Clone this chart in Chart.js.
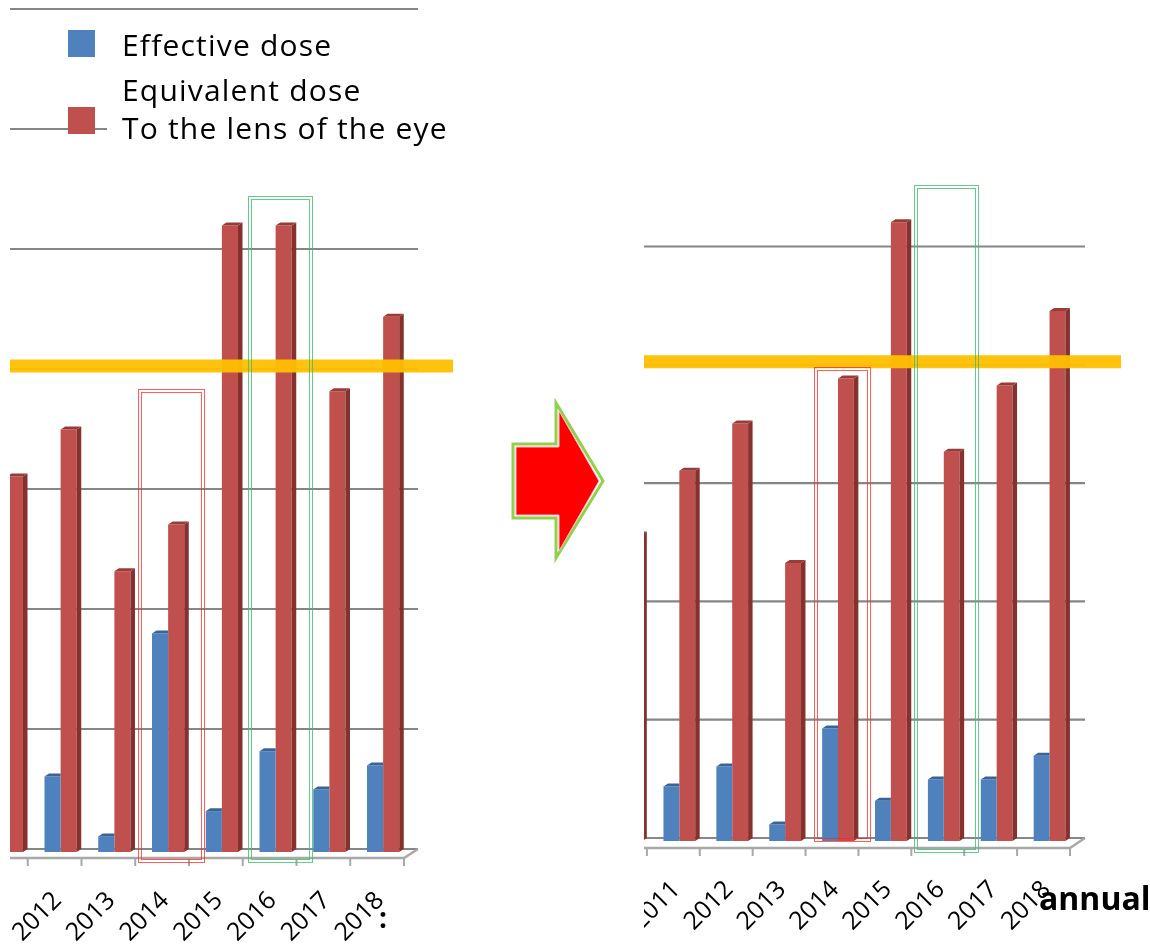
<!DOCTYPE html>
<html>
<head>
<meta charset="utf-8">
<script src="https://cdn.jsdelivr.net/npm/chart.js@4.4.1/dist/chart.umd.min.js"></script>
<style>
  body { margin: 0; width: 1150px; height: 945px; position: relative; overflow: hidden; background: #fff; font-family: 'Open Sans', sans-serif; }
  .panel { position: absolute; top: 0; height: 945px; overflow: hidden; }
  .panel canvas { position: absolute; top: 0; }
  #leftPanel { left: 10px; width: 460px; }
  #leftPanel canvas { left: -36px; }
  #rightPanel { left: 644px; width: 506px; }
  #rightPanel canvas { left: -50px; }
  .legendBox { position: absolute; left: 107px; top: 18px; width: 350px; height: 138px; background: #fff; }
  .legendText { position: absolute; left: 15px; font-size: 30px; letter-spacing: 1.2px; color: #000; white-space: nowrap; line-height: 38px; }
  .swatch { position: absolute; left: 68px; width: 27px; height: 27px; }
  .mark { position: absolute; box-sizing: border-box; border-style: double; border-width: 4px; }
  .note { position: absolute; color: #000; white-space: nowrap; }
</style>
</head>
<body>
<div id="leftPanel" class="panel"><canvas id="leftChart" width="500" height="945"></canvas></div>
<div id="rightPanel" class="panel"><canvas id="rightChart" width="556" height="945"></canvas></div>

<!-- legend of the left chart -->
<div class="legendBox">
  <div class="legendText" style="top:8px">Effective dose</div>
  <div class="legendText" style="top:53px">Equivalent dose</div>
  <div class="legendText" style="top:91px">To the lens of the eye</div>
</div>
<div class="swatch" style="top:30px;background:#4f81bd"></div>
<div class="swatch" style="top:107px;background:#c0504d"></div>

<!-- highlight boxes -->
<div class="mark" style="left:138px;top:389px;width:67px;height:474px;border-color:rgba(255,40,40,0.75)"></div>
<div class="mark" style="left:248px;top:196px;width:65px;height:667px;border-color:rgba(60,190,110,0.8)"></div>
<div class="mark" style="left:814px;top:367px;width:57px;height:475px;border-color:rgba(255,40,40,0.75)"></div>
<div class="mark" style="left:914px;top:185px;width:65px;height:668px;border-color:rgba(60,190,110,0.8)"></div>

<!-- arrow -->
<svg style="position:absolute;left:0;top:0" width="1150" height="945">
  <polygon points="513,444 556,444 556,403 603,481 556,558 556,518 513,518" fill="none" stroke="#92d050" stroke-width="3"/>
  <polygon points="516,447 559,447 559,411 599,481 559,551 559,515 516,515" fill="#ff0000" stroke="#ffb8b8" stroke-width="1"/>
</svg>

<div class="note" style="left:379px;top:898px;font-size:28px;font-weight:bold">:</div>
<div class="note" style="left:1039px;top:876px;font-size:32px;font-weight:bold">annual</div>

<script>
// data (units = grid steps)
const leftYears = ['2011', '2012', '2013', '2014', '2015', '2016', '2017', '2018'];
const leftEffective = [0.46, 0.63, 0.13, 1.82, 0.34, 0.84, 0.52, 0.72];
const leftLens = [3.13, 3.52, 2.34, 2.73, 5.22, 5.22, 3.84, 4.46];

const rightYears = ['2010', '2011', '2012', '2013', '2014', '2015', '2016', '2017', '2018'];
const rightEffective = [null, 0.46, 0.63, 0.14, 0.95, 0.34, 0.52, 0.52, 0.72];
const rightLens = [2.59, 3.13, 3.53, 2.35, 3.91, 5.23, 3.29, 3.85, 4.48];

const limitValue = 4;

const blue = '#4f81bd';
const red = '#c0504d';

// draws the excel-like 3D look: back wall grid, floor, bar sides, limit line
const depth3d = {
    id: 'depth3d',
    beforeDatasetsDraw(chart, args, o) {
        const { ctx, chartArea: a, scales: { x, y } } = chart;
        ctx.save();
        // back wall grid lines
        ctx.strokeStyle = '#868686';
        ctx.lineWidth = 2.2;
        for (let v = 0; v <= o.gridMax; v++) {
            const py = y.getPixelForValue(v) - o.wallDy;
            ctx.beginPath();
            ctx.moveTo(a.left, py);
            ctx.lineTo(a.right + o.wallDx, py);
            ctx.stroke();
        }
        // floor front edge + side
        const back0 = y.getPixelForValue(0) - o.wallDy;
        const front0 = y.getPixelForValue(0) + o.floorDy;
        ctx.strokeStyle = '#a8a8a8';
        ctx.lineWidth = 2.5;
        ctx.beginPath();
        ctx.moveTo(a.left, front0);
        ctx.lineTo(a.right, front0);
        ctx.lineTo(a.right + o.wallDx, back0);
        ctx.stroke();
        // tick marks on category borders
        ctx.lineWidth = 2;
        const n = x.getLabels().length;
        for (let i = 0; i <= n; i++) {
            const px = x.getPixelForValue(i - 0.5);
            ctx.beginPath();
            ctx.moveTo(px, front0);
            ctx.lineTo(px, front0 + 8);
            ctx.stroke();
        }
        ctx.restore();
        // bars sit a bit deeper than the floor front
        ctx.save();
        ctx.translate(o.barDx, 0);
    },
    afterDatasetsDraw(chart, args, o) {
        const { ctx, chartArea: a, scales: { y } } = chart;
        const dx = o.faceDx, dy = o.faceDy;
        chart.data.datasets.forEach((ds, i) => {
            const meta = chart.getDatasetMeta(i);
            meta.data.forEach((el, j) => {
                if (ds.data[j] === null) return;
                const l = el.x - el.width / 2, r = el.x + el.width / 2;
                const t = el.y, b = el.base;
                if (o.sides[i]) {
                    ctx.fillStyle = o.sides[i];
                    ctx.beginPath();
                    ctx.moveTo(r, t); ctx.lineTo(r + dx, t - dy);
                    ctx.lineTo(r + dx, b - dy); ctx.lineTo(r, b);
                    ctx.closePath(); ctx.fill();
                }
                ctx.fillStyle = o.tops[i];
                ctx.beginPath();
                ctx.moveTo(l, t); ctx.lineTo(l + dx, t - dy);
                ctx.lineTo(o.sides[i] ? r + dx : r, t - dy); ctx.lineTo(r, t);
                ctx.closePath(); ctx.fill();
            });
        });
        ctx.restore();
        // orange limit line
        const ly = y.getPixelForValue(limitValue) - 6;
        ctx.save();
        ctx.strokeStyle = 'rgba(255,192,0,0.95)';
        ctx.lineWidth = 13;
        ctx.beginPath();
        ctx.moveTo(a.left, ly);
        ctx.lineTo(a.right + o.limitExt, ly);
        ctx.stroke();
        ctx.restore();
    }
};

function makeChart(id, labels, eff, lens, cfg) {
    const ctx = document.getElementById(id).getContext('2d');
    return new Chart(ctx, {
        type: 'bar',
        data: {
            labels: labels,
            datasets: [{
                label: 'Effective dose',
                data: eff,
                backgroundColor: blue,
                categoryPercentage: 0.6,
                barPercentage: 1
            }, {
                label: 'Equivalent dose To the lens of the eye',
                data: lens,
                backgroundColor: red,
                categoryPercentage: 0.6,
                barPercentage: 1
            }]
        },
        options: {
            responsive: false,
            animation: false,
            devicePixelRatio: 1,
            layout: { padding: { left: 0, right: cfg.padRight, top: cfg.padTop, bottom: 0 } },
            plugins: {
                legend: { display: false },
                tooltip: { enabled: false },
                depth3d: {
                    gridMax: cfg.gridMax,
                    wallDx: cfg.wallDx,
                    wallDy: 3,
                    floorDy: cfg.floorDy,
                    barDx: 6,
                    faceDx: 4.5,
                    faceDy: 3,
                    limitExt: cfg.limitExt,
                    sides: [null, '#85322f'],
                    tops: ['#3a6499', '#973c39']
                }
            },
            scales: {
                x: {
                    grid: { display: false, drawTicks: false },
                    border: { display: false },
                    ticks: {
                        minRotation: 45,
                        maxRotation: 45,
                        autoSkip: false,
                        padding: 34,
                        labelOffset: 3,
                        color: '#000',
                        font: { family: 'Open Sans', size: 25 }
                    },
                    afterFit(scale) {
                        scale.height = cfg.axisHeight;
                        scale.paddingLeft = 0;
                        scale.paddingRight = 0;
                    }
                },
                y: { display: false, min: 0, max: cfg.yMax }
            }
        },
        plugins: [depth3d]
    });
}

const leftChart = makeChart('leftChart', leftYears, leftEffective, leftLens, {
    padRight: 70, padTop: 12, axisHeight: 93, yMax: 7, gridMax: 7, wallDx: 14, floorDy: 6, limitExt: 49
});

const rightChart = makeChart('rightChart', rightYears, rightEffective, rightLens, {
    padRight: 80, padTop: 131.2, axisHeight: 104, yMax: 6, gridMax: 5, wallDx: 15, floorDy: 7, limitExt: 51
});
</script>
</body>
</html>
